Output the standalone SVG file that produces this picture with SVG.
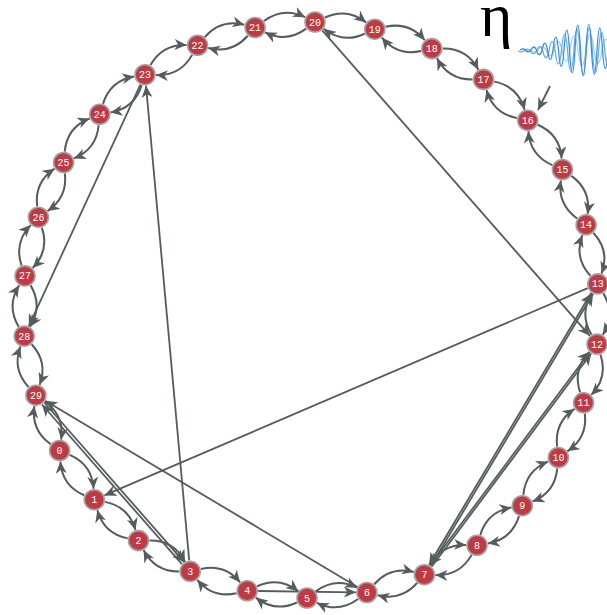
<svg xmlns="http://www.w3.org/2000/svg" width="607" height="615" viewBox="0 0 607 615">
<style>
.e{fill:none;stroke:#555c5c;stroke-width:2}
.l{fill:none;stroke:#555c5c;stroke-width:1.8}
.n circle{fill:#bf3a42;stroke:#a3a3a3;stroke-width:1.6}
.n text{fill:#ffffff;font-family:"Liberation Mono","DejaVu Sans Mono",monospace;font-size:10px;text-anchor:middle}
.w{fill:none;stroke-width:1.3}
</style>
<defs>
<marker id="ah" markerWidth="13" markerHeight="11" refX="12" refY="5.5" orient="auto" markerUnits="userSpaceOnUse" viewBox="0 0 13 11">
<path d="M0,0 L12,5.5 L0,11 L3.5,5.5 Z" fill="#555c5c"/>
</marker>
</defs>
<rect width="607" height="615" fill="#ffffff"/>
<g id="connectors">
<path class="e" transform="rotate(234.8 311 310)" d="M331.7,29.3 Q311,42 290.3,29.3" marker-end="url(#ah)"/>
<path class="e" transform="rotate(234.8 311 310)" d="M290.3,17.9 Q311,5.2 331.7,17.9" marker-end="url(#ah)"/>
<path class="e" transform="rotate(222.8 311 310)" d="M331.7,29.3 Q311,42 290.3,29.3" marker-end="url(#ah)"/>
<path class="e" transform="rotate(222.8 311 310)" d="M290.3,17.9 Q311,5.2 331.7,17.9" marker-end="url(#ah)"/>
<path class="e" transform="rotate(210.8 311 310)" d="M331.7,29.3 Q311,42 290.3,29.3" marker-end="url(#ah)"/>
<path class="e" transform="rotate(210.8 311 310)" d="M290.3,17.9 Q311,5.2 331.7,17.9" marker-end="url(#ah)"/>
<path class="e" transform="rotate(198.8 311 310)" d="M331.7,29.3 Q311,42 290.3,29.3" marker-end="url(#ah)"/>
<path class="e" transform="rotate(198.8 311 310)" d="M290.3,17.9 Q311,5.2 331.7,17.9" marker-end="url(#ah)"/>
<path class="e" transform="rotate(186.8 311 310)" d="M331.7,29.3 Q311,42 290.3,29.3" marker-end="url(#ah)"/>
<path class="e" transform="rotate(186.8 311 310)" d="M290.3,17.9 Q311,5.2 331.7,17.9" marker-end="url(#ah)"/>
<path class="e" transform="rotate(174.8 311 310)" d="M331.7,29.3 Q311,42 290.3,29.3" marker-end="url(#ah)"/>
<path class="e" transform="rotate(174.8 311 310)" d="M290.3,17.9 Q311,5.2 331.7,17.9" marker-end="url(#ah)"/>
<path class="e" transform="rotate(162.8 311 310)" d="M331.7,29.3 Q311,42 290.3,29.3" marker-end="url(#ah)"/>
<path class="e" transform="rotate(162.8 311 310)" d="M290.3,17.9 Q311,5.2 331.7,17.9" marker-end="url(#ah)"/>
<path class="e" transform="rotate(150.8 311 310)" d="M331.7,29.3 Q311,42 290.3,29.3" marker-end="url(#ah)"/>
<path class="e" transform="rotate(150.8 311 310)" d="M290.3,17.9 Q311,5.2 331.7,17.9" marker-end="url(#ah)"/>
<path class="e" transform="rotate(138.8 311 310)" d="M331.7,29.3 Q311,42 290.3,29.3" marker-end="url(#ah)"/>
<path class="e" transform="rotate(138.8 311 310)" d="M290.3,17.9 Q311,5.2 331.7,17.9" marker-end="url(#ah)"/>
<path class="e" transform="rotate(126.8 311 310)" d="M331.7,29.3 Q311,42 290.3,29.3" marker-end="url(#ah)"/>
<path class="e" transform="rotate(126.8 311 310)" d="M290.3,17.9 Q311,5.2 331.7,17.9" marker-end="url(#ah)"/>
<path class="e" transform="rotate(114.8 311 310)" d="M331.7,29.3 Q311,42 290.3,29.3" marker-end="url(#ah)"/>
<path class="e" transform="rotate(114.8 311 310)" d="M290.3,17.9 Q311,5.2 331.7,17.9" marker-end="url(#ah)"/>
<path class="e" transform="rotate(102.8 311 310)" d="M331.7,29.3 Q311,42 290.3,29.3" marker-end="url(#ah)"/>
<path class="e" transform="rotate(102.8 311 310)" d="M290.3,17.9 Q311,5.2 331.7,17.9" marker-end="url(#ah)"/>
<path class="e" transform="rotate(90.8 311 310)" d="M331.7,29.3 Q311,42 290.3,29.3" marker-end="url(#ah)"/>
<path class="e" transform="rotate(90.8 311 310)" d="M290.3,17.9 Q311,5.2 331.7,17.9" marker-end="url(#ah)"/>
<path class="e" transform="rotate(78.8 311 310)" d="M331.7,29.3 Q311,42 290.3,29.3" marker-end="url(#ah)"/>
<path class="e" transform="rotate(78.8 311 310)" d="M290.3,17.9 Q311,5.2 331.7,17.9" marker-end="url(#ah)"/>
<path class="e" transform="rotate(66.8 311 310)" d="M331.7,29.3 Q311,42 290.3,29.3" marker-end="url(#ah)"/>
<path class="e" transform="rotate(66.8 311 310)" d="M290.3,17.9 Q311,5.2 331.7,17.9" marker-end="url(#ah)"/>
<path class="e" transform="rotate(54.8 311 310)" d="M331.7,29.3 Q311,42 290.3,29.3" marker-end="url(#ah)"/>
<path class="e" transform="rotate(54.8 311 310)" d="M290.3,17.9 Q311,5.2 331.7,17.9" marker-end="url(#ah)"/>
<path class="e" transform="rotate(42.8 311 310)" d="M331.7,29.3 Q311,42 290.3,29.3" marker-end="url(#ah)"/>
<path class="e" transform="rotate(42.8 311 310)" d="M290.3,17.9 Q311,5.2 331.7,17.9" marker-end="url(#ah)"/>
<path class="e" transform="rotate(30.8 311 310)" d="M331.7,29.3 Q311,42 290.3,29.3" marker-end="url(#ah)"/>
<path class="e" transform="rotate(30.8 311 310)" d="M290.3,17.9 Q311,5.2 331.7,17.9" marker-end="url(#ah)"/>
<path class="e" transform="rotate(18.8 311 310)" d="M331.7,29.3 Q311,42 290.3,29.3" marker-end="url(#ah)"/>
<path class="e" transform="rotate(18.8 311 310)" d="M290.3,17.9 Q311,5.2 331.7,17.9" marker-end="url(#ah)"/>
<path class="e" transform="rotate(6.8 311 310)" d="M331.7,29.3 Q311,42 290.3,29.3" marker-end="url(#ah)"/>
<path class="e" transform="rotate(6.8 311 310)" d="M290.3,17.9 Q311,5.2 331.7,17.9" marker-end="url(#ah)"/>
<path class="e" transform="rotate(-5.2 311 310)" d="M331.7,29.3 Q311,42 290.3,29.3" marker-end="url(#ah)"/>
<path class="e" transform="rotate(-5.2 311 310)" d="M290.3,17.9 Q311,5.2 331.7,17.9" marker-end="url(#ah)"/>
<path class="e" transform="rotate(-17.2 311 310)" d="M331.7,29.3 Q311,42 290.3,29.3" marker-end="url(#ah)"/>
<path class="e" transform="rotate(-17.2 311 310)" d="M290.3,17.9 Q311,5.2 331.7,17.9" marker-end="url(#ah)"/>
<path class="e" transform="rotate(-29.2 311 310)" d="M331.7,29.3 Q311,42 290.3,29.3" marker-end="url(#ah)"/>
<path class="e" transform="rotate(-29.2 311 310)" d="M290.3,17.9 Q311,5.2 331.7,17.9" marker-end="url(#ah)"/>
<path class="e" transform="rotate(-41.2 311 310)" d="M331.7,29.3 Q311,42 290.3,29.3" marker-end="url(#ah)"/>
<path class="e" transform="rotate(-41.2 311 310)" d="M290.3,17.9 Q311,5.2 331.7,17.9" marker-end="url(#ah)"/>
<path class="e" transform="rotate(-53.2 311 310)" d="M331.7,29.3 Q311,42 290.3,29.3" marker-end="url(#ah)"/>
<path class="e" transform="rotate(-53.2 311 310)" d="M290.3,17.9 Q311,5.2 331.7,17.9" marker-end="url(#ah)"/>
<path class="e" transform="rotate(-65.2 311 310)" d="M331.7,29.3 Q311,42 290.3,29.3" marker-end="url(#ah)"/>
<path class="e" transform="rotate(-65.2 311 310)" d="M290.3,17.9 Q311,5.2 331.7,17.9" marker-end="url(#ah)"/>
<path class="e" transform="rotate(-77.2 311 310)" d="M331.7,29.3 Q311,42 290.3,29.3" marker-end="url(#ah)"/>
<path class="e" transform="rotate(-77.2 311 310)" d="M290.3,17.9 Q311,5.2 331.7,17.9" marker-end="url(#ah)"/>
<path class="e" transform="rotate(-89.2 311 310)" d="M331.7,29.3 Q311,42 290.3,29.3" marker-end="url(#ah)"/>
<path class="e" transform="rotate(-89.2 311 310)" d="M290.3,17.9 Q311,5.2 331.7,17.9" marker-end="url(#ah)"/>
<path class="e" transform="rotate(-101.2 311 310)" d="M331.7,29.3 Q311,42 290.3,29.3" marker-end="url(#ah)"/>
<path class="e" transform="rotate(-101.2 311 310)" d="M290.3,17.9 Q311,5.2 331.7,17.9" marker-end="url(#ah)"/>
<path class="e" transform="rotate(-113.2 311 310)" d="M331.7,29.3 Q311,42 290.3,29.3" marker-end="url(#ah)"/>
<path class="e" transform="rotate(-113.2 311 310)" d="M290.3,17.9 Q311,5.2 331.7,17.9" marker-end="url(#ah)"/>
<path class="l" d="M322.2,30.3 L589.8,335.8" marker-end="url(#ah)"/>
<path class="l" d="M140.4,84.7 L28.8,326.1" marker-end="url(#ah)"/>
<path class="l" d="M189.2,560.4 L146.0,85.7" marker-end="url(#ah)"/>
<path class="l" d="M587.7,288.2 L104.4,495.4" marker-end="url(#ah)"/>
<path class="l" d="M357.5,586.9 L45.3,400.8" marker-end="url(#ah)"/>
<path class="l" d="M44.2,402.5 L184.1,562.1" marker-end="url(#ah)"/>
<path class="l" d="M181.9,564.1 L42.0,404.5" marker-end="url(#ah)"/>
<path class="l" d="M430.9,565.8 L593.1,293.8" marker-end="url(#ah)"/>
<path class="l" d="M591.3,292.8 L429.1,564.8" marker-end="url(#ah)"/>
<path class="l" d="M431.8,566.5 L591.2,353.5" marker-end="url(#ah)"/>
<path class="l" d="M589.6,352.3 L430.2,565.3" marker-end="url(#ah)"/>
<path class="l" d="M258.2,591.0 L355.9,592.3" marker-end="url(#ah)"/>
<path class="l" d="M550,86 L538,110" marker-end="url(#ah)"/>
</g>
<g id="n0" class="n"><circle cx="59.6" cy="450.5" r="10"/><text x="59.6" y="454">0</text></g>
<g id="n1" class="n"><circle cx="94.3" cy="499.7" r="10"/><text x="94.3" y="503.2">1</text></g>
<g id="n2" class="n"><circle cx="138.5" cy="540.6" r="10"/><text x="138.5" y="544.1">2</text></g>
<g id="n3" class="n"><circle cx="190.2" cy="571.4" r="10"/><text x="190.2" y="574.9">3</text></g>
<g id="n4" class="n"><circle cx="247.2" cy="590.8" r="10"/><text x="247.2" y="594.3">4</text></g>
<g id="n5" class="n"><circle cx="307" cy="598" r="10"/><text x="307" y="601.5">5</text></g>
<g id="n6" class="n"><circle cx="366.9" cy="592.5" r="10"/><text x="366.9" y="596">6</text></g>
<g id="n7" class="n"><circle cx="424.4" cy="574.7" r="10"/><text x="424.4" y="578.2">7</text></g>
<g id="n8" class="n"><circle cx="477" cy="545.3" r="10"/><text x="477" y="548.8">8</text></g>
<g id="n9" class="n"><circle cx="522.3" cy="505.7" r="10"/><text x="522.3" y="509.2">9</text></g>
<g id="n10" class="n"><circle cx="558.4" cy="457.5" r="10"/><text x="558.4" y="461">10</text></g>
<g id="n11" class="n"><circle cx="583.6" cy="402.8" r="10"/><text x="583.6" y="406.3">11</text></g>
<g id="n12" class="n"><circle cx="597" cy="344.1" r="10"/><text x="597" y="347.6">12</text></g>
<g id="n13" class="n"><circle cx="597.8" cy="283.9" r="10"/><text x="597.8" y="287.4">13</text></g>
<g id="n14" class="n"><circle cx="586.1" cy="224.8" r="10"/><text x="586.1" y="228.3">14</text></g>
<g id="n15" class="n"><circle cx="562.4" cy="169.5" r="10"/><text x="562.4" y="173">15</text></g>
<g id="n16" class="n"><circle cx="527.7" cy="120.3" r="10"/><text x="527.7" y="123.8">16</text></g>
<g id="n17" class="n"><circle cx="483.5" cy="79.4" r="10"/><text x="483.5" y="82.9">17</text></g>
<g id="n18" class="n"><circle cx="431.8" cy="48.6" r="10"/><text x="431.8" y="52.1">18</text></g>
<g id="n19" class="n"><circle cx="374.8" cy="29.2" r="10"/><text x="374.8" y="32.7">19</text></g>
<g id="n20" class="n"><circle cx="315" cy="22" r="10"/><text x="315" y="25.5">20</text></g>
<g id="n21" class="n"><circle cx="255.1" cy="27.5" r="10"/><text x="255.1" y="31">21</text></g>
<g id="n22" class="n"><circle cx="197.6" cy="45.3" r="10"/><text x="197.6" y="48.8">22</text></g>
<g id="n23" class="n"><circle cx="145" cy="74.7" r="10"/><text x="145" y="78.2">23</text></g>
<g id="n24" class="n"><circle cx="99.7" cy="114.3" r="10"/><text x="99.7" y="117.8">24</text></g>
<g id="n25" class="n"><circle cx="63.6" cy="162.5" r="10"/><text x="63.6" y="166">25</text></g>
<g id="n26" class="n"><circle cx="38.4" cy="217.2" r="10"/><text x="38.4" y="220.7">26</text></g>
<g id="n27" class="n"><circle cx="25" cy="275.9" r="10"/><text x="25" y="279.4">27</text></g>
<g id="n28" class="n"><circle cx="24.2" cy="336.1" r="10"/><text x="24.2" y="339.6">28</text></g>
<g id="n29" class="n"><circle cx="35.9" cy="395.2" r="10"/><text x="35.9" y="398.7">29</text></g>
<g id="logo">
<text x="480" y="36" font-family="Liberation Serif, DejaVu Serif, serif" font-size="62" fill="#000000">η</text>
<path class="w" stroke="#a6cdf2" d="M522,50 Q526,48.2 530,50 Q534,53.8 538,50 Q542,43.2 546,50 Q550,61.4 554,50 Q558,32.8 562,50 Q566,73.2 570,50 Q574,21.8 578,50 Q582,81 586,50 Q590,19.4 594,50 Q598,77.2 602,50 Q606,28.2 610,50"/>
<path class="w" stroke="#6aaeea" d="M518,51 Q521.1,52.6 524.2,51 Q527.3,47.9 530.4,51 Q533.5,56.4 536.6,51 Q539.7,42.2 542.8,51 Q545.9,64.5 549,51 Q552.1,31.7 555.2,51 Q558.3,77.1 561.4,51 Q564.5,17.9 567.6,51 Q570.7,90.6 573.8,51 Q576.9,6.7 580,51 Q583.1,97.6 586.2,51 Q589.3,4.9 592.4,51 Q595.5,93.8 598.6,51 Q601.7,13.7 604.8,51 Q607.9,81.6 611,51"/>
<path class="w" stroke="#3a8ee0" d="M520,50 Q522.75,47.8 525.5,50 Q528.25,53.8 531,50 Q533.75,44 536.5,50 Q539.25,59.4 542,50 Q544.75,36.2 547.5,50 Q550.25,69.4 553,50 Q555.75,24.2 558.5,50 Q561.25,82.8 564,50 Q566.75,10.4 569.5,50 Q572.25,95.6 575,50 Q577.75,0.2 580.5,50 Q583.25,101.8 586,50 Q588.75,-1.4 591.5,50 Q594.25,98.6 597,50 Q599.75,6.4 602.5,50 Q605.25,87.2 608,50"/>
</g>
</svg>
